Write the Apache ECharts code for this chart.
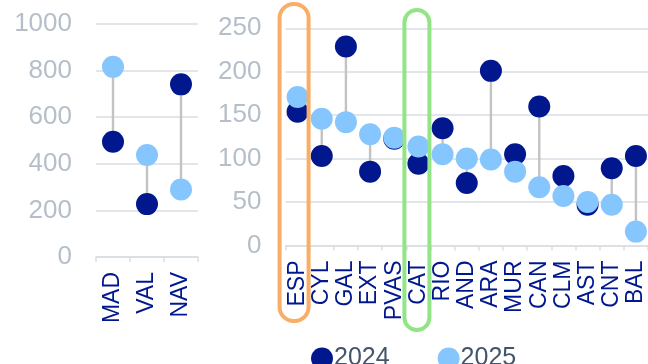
<!DOCTYPE html>
<html>
<head>
<meta charset="utf-8">
<script src="https://cdn.jsdelivr.net/npm/echarts@6/dist/echarts.min.js"></script>
<style>
html,body{margin:0;padding:0;background:#fff;}
#c{width:648px;height:364px;}
</style>
</head>
<body>
<div id="c"></div>
<script>
// ---- data ----
const leftCategories = ['MAD', 'VAL', 'NAV'];
const left2024 = [495, 227, 741];
const left2025 = [816, 438, 290];

const rightCategories = ['ESP', 'CYL', 'GAL', 'EXT', 'PVAS', 'CAT', 'RIO', 'AND', 'ARA', 'MUR', 'CAN', 'CLM', 'AST', 'CNT', 'BAL'];
const right2024 = [154, 103, 229, 85, 123, 94, 135, 72, 201, 105, 160, 80, 47, 89, 103];
const right2025 = [171, 146, 142, 128, 124, 114, 105, 100, 99, 85, 67, 57, 50, 47, 16];

const leftTicks = [0, 200, 400, 600, 800, 1000];
const rightTicks = [0, 50, 100, 150, 200, 250];

const seriesNames = ['2024', '2025'];
const highlighted = ['ESP', 'CAT'];

// ---- styling ----
const C24 = '#00178E';
const C25 = '#86C6FF';
const FONT = 'Liberation Sans, Arial, sans-serif';
const yLabelColor = '#B5BFC9';
const xLabelColor = '#00188F';
const gridColor = '#D9DEE4';

const chart = echarts.init(document.getElementById('c'));

function connector(params, api) {
  const x = api.value(0);
  const p1 = api.coord([x, api.value(1)]);
  const p2 = api.coord([x, api.value(2)]);
  return {
    type: 'line',
    shape: { x1: p1[0], y1: p1[1], x2: p2[0], y2: p2[1] },
    style: { stroke: '#C3C3C3', lineWidth: 2.4 }
  };
}

function xAxis(idx, cats) {
  return {
    type: 'category', gridIndex: idx, data: cats, boundaryGap: true,
    axisLine: { show: true, lineStyle: { color: gridColor, width: 1.5 } },
    axisTick: { show: true, length: 5, lineStyle: { color: gridColor, width: 1.5 } },
    axisLabel: { rotate: 90, margin: 15, color: xLabelColor, fontSize: 23, fontFamily: FONT, interval: 0 },
    splitLine: { show: false }
  };
}
function yAxis(idx, ticks) {
  return {
    type: 'value', gridIndex: idx, min: ticks[0], max: ticks[ticks.length - 1],
    interval: ticks[1] - ticks[0],
    axisLine: { show: false }, axisTick: { show: false },
    axisLabel: { margin: 24, color: yLabelColor, fontSize: 26, fontFamily: FONT,
      formatter: function (v) { return String(v); } },
    splitLine: { show: true, lineStyle: { color: gridColor, width: 1.5 } }
  };
}

const option = {
  animation: false,
  backgroundColor: '#ffffff',
  grid: [
    { left: 96, width: 102, top: 24, height: 233 },
    { left: 285.5, right: -3.5, top: 28.3, height: 217.2 }
  ],
  xAxis: [xAxis(0, leftCategories), xAxis(1, rightCategories)],
  yAxis: [yAxis(0, leftTicks), yAxis(1, rightTicks)],
  legend: {
    data: seriesNames,
    left: 306, top: 341,
    icon: 'circle', itemWidth: 22, itemHeight: 22, itemGap: 48,
    textStyle: { color: '#44546A', fontSize: 25, fontFamily: FONT, padding: [0, 0, 0, -4] }
  },
  series: [
    { type: 'custom', xAxisIndex: 0, yAxisIndex: 0, renderItem: connector, z: 1,
      data: leftCategories.map((c, i) => [i, left2024[i], left2025[i]]) },
    { type: 'custom', xAxisIndex: 1, yAxisIndex: 1, renderItem: connector, z: 1,
      data: rightCategories.map((c, i) => [i, right2024[i], right2025[i]]) },
    { name: seriesNames[0], type: 'scatter', xAxisIndex: 0, yAxisIndex: 0, symbolSize: 22, z: 2,
      itemStyle: { color: C24, opacity: 1 }, data: left2024 },
    { name: seriesNames[0], type: 'scatter', xAxisIndex: 1, yAxisIndex: 1, symbolSize: 22, z: 2,
      itemStyle: { color: C24, opacity: 1 }, data: right2024 },
    { name: seriesNames[1], type: 'scatter', xAxisIndex: 0, yAxisIndex: 0, symbolSize: 22, z: 3,
      itemStyle: { color: C25, opacity: 1 }, data: left2025 },
    { name: seriesNames[1], type: 'scatter', xAxisIndex: 1, yAxisIndex: 1, symbolSize: 22, z: 3,
      itemStyle: { color: C25, opacity: 1 }, data: right2025 }
  ]
};
chart.setOption(option);

// highlight frames around ESP and CAT, positioned from the category axis
const espX = chart.convertToPixel({ xAxisIndex: 1 }, highlighted[0]);
const catX = chart.convertToPixel({ xAxisIndex: 1 }, highlighted[1]);
chart.setOption({
  graphic: [
    { type: 'rect', z: 100, shape: { x: espX - 18, y: 4, width: 29, height: 317, r: 14 },
      style: { fill: 'none', stroke: '#F9AE68', lineWidth: 4 } },
    { type: 'rect', z: 100, shape: { x: catX - 14, y: 10, width: 25, height: 320, r: 13 },
      style: { fill: 'none', stroke: '#92E486', lineWidth: 4 } }
  ]
});
</script>
</body>
</html>
